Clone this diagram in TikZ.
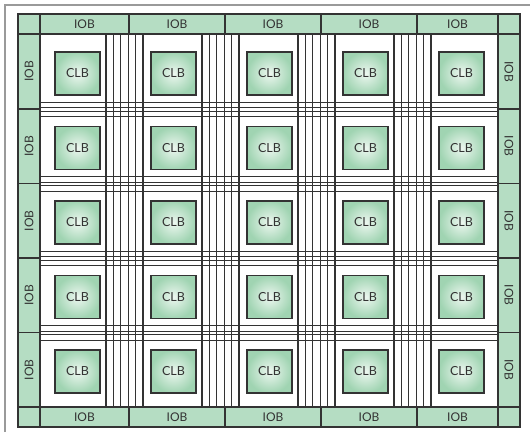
\documentclass[tikz,border=0pt]{standalone}
\usepackage{fontspec}
\setmainfont{Lato}
\definecolor{iobgreen}{HTML}{B5DDC3}
\definecolor{clbedge}{HTML}{A0D4B2}
\definecolor{clbmid}{HTML}{EDF7F0}
\definecolor{ln}{HTML}{333333}
\definecolor{frame}{HTML}{9A9A9A}
\begin{document}
\begin{tikzpicture}[x=1pt,y=-1pt,
  iob/.style={draw=ln, line width=1.3pt, fill=iobgreen, inner sep=0pt, outer sep=0pt,
    font=\fontsize{12}{12}\selectfont, text=ln},
  cornercell/.style={draw=ln, line width=1.3pt, fill=iobgreen, inner sep=0pt, outer sep=0pt},
  clb/.style={draw=ln, line width=1.3pt, inner color=clbmid, outer color=clbedge,
    minimum width=45pt, minimum height=43pt, inner sep=0pt,
    font=\fontsize{12.5}{12}\selectfont, text=ln},
  wire/.style={draw=ln, line width=1.05pt},
  outerline/.style={draw=frame, line width=1.2pt}]
\useasboundingbox (0,0) rectangle (530,432);
% outer grey frame (top and left only)
\coordinate (fA) at (5,432);
\coordinate (fB) at (5,5);
\coordinate (fC) at (530,5);
\draw[outerline] (fA) -- (fB) -- (fC);
% corner cells
\node[cornercell, minimum width=22pt, minimum height=20pt] (c1) at (29,24) {};
\node[cornercell, minimum width=22pt, minimum height=20pt] (c2) at (509,24) {};
\node[cornercell, minimum width=22pt, minimum height=20pt] (c3) at (29,417) {};
\node[cornercell, minimum width=22pt, minimum height=20pt] (c4) at (509,417) {};
% top and bottom IOBs
\foreach \a/\b [count=\i] in {40/129,129/225,225/321,321/417,417/498}{
  \pgfmathsetmacro{\cx}{(\a+\b)/2}
  \pgfmathsetmacro{\w}{\b-\a}
  \node[iob, minimum width=\w pt, minimum height=20pt] (t\i) at (\cx,24) {IOB};
  \node[iob, minimum width=\w pt, minimum height=20pt] (b\i) at (\cx,417) {IOB};
}
% left and right IOBs
\foreach \a/\b [count=\i] in {34/109,109/183.5,183.5/258,258/332.5,332.5/407}{
  \pgfmathsetmacro{\cy}{(\a+\b)/2}
  \pgfmathsetmacro{\h}{\b-\a}
  \node[iob, rotate=90, minimum width=\h pt, minimum height=22pt] (l\i) at (29,\cy) {IOB};
  \node[iob, rotate=-90, minimum width=\h pt, minimum height=22pt] (r\i) at (509,\cy) {IOB};
}
% interior
\fill[white] (40,34) rectangle (498,407);
% vertical routing channels
\foreach \c in {124.5,220.5,316.5,412.5}{
  \foreach \d in {-18.5,-11.1,-3.7,3.7,11.1,18.5}{
    \draw[wire] (\c+\d,34) -- (\c+\d,407);
  }
}
% horizontal routing channels
\foreach \c in {109.5,184,258.5,333}{
  \foreach \d in {-7.4,-1.6,1.6,7.4}{
    \draw[wire] (40,\c+\d) -- (498,\c+\d);
  }
}
% redraw interior border
\draw[draw=ln, line width=1.3pt] (40,34) rectangle (498,407);
% CLBs
\foreach \y [count=\r] in {73.5,148,222.5,297,371.5}{
  \foreach \x [count=\k] in {77.5,173.5,269.5,365.5,461.5}{
    \node[clb] (clb\r\k) at (\x,\y) {CLB};
  }
}
\end{tikzpicture}
\end{document}
